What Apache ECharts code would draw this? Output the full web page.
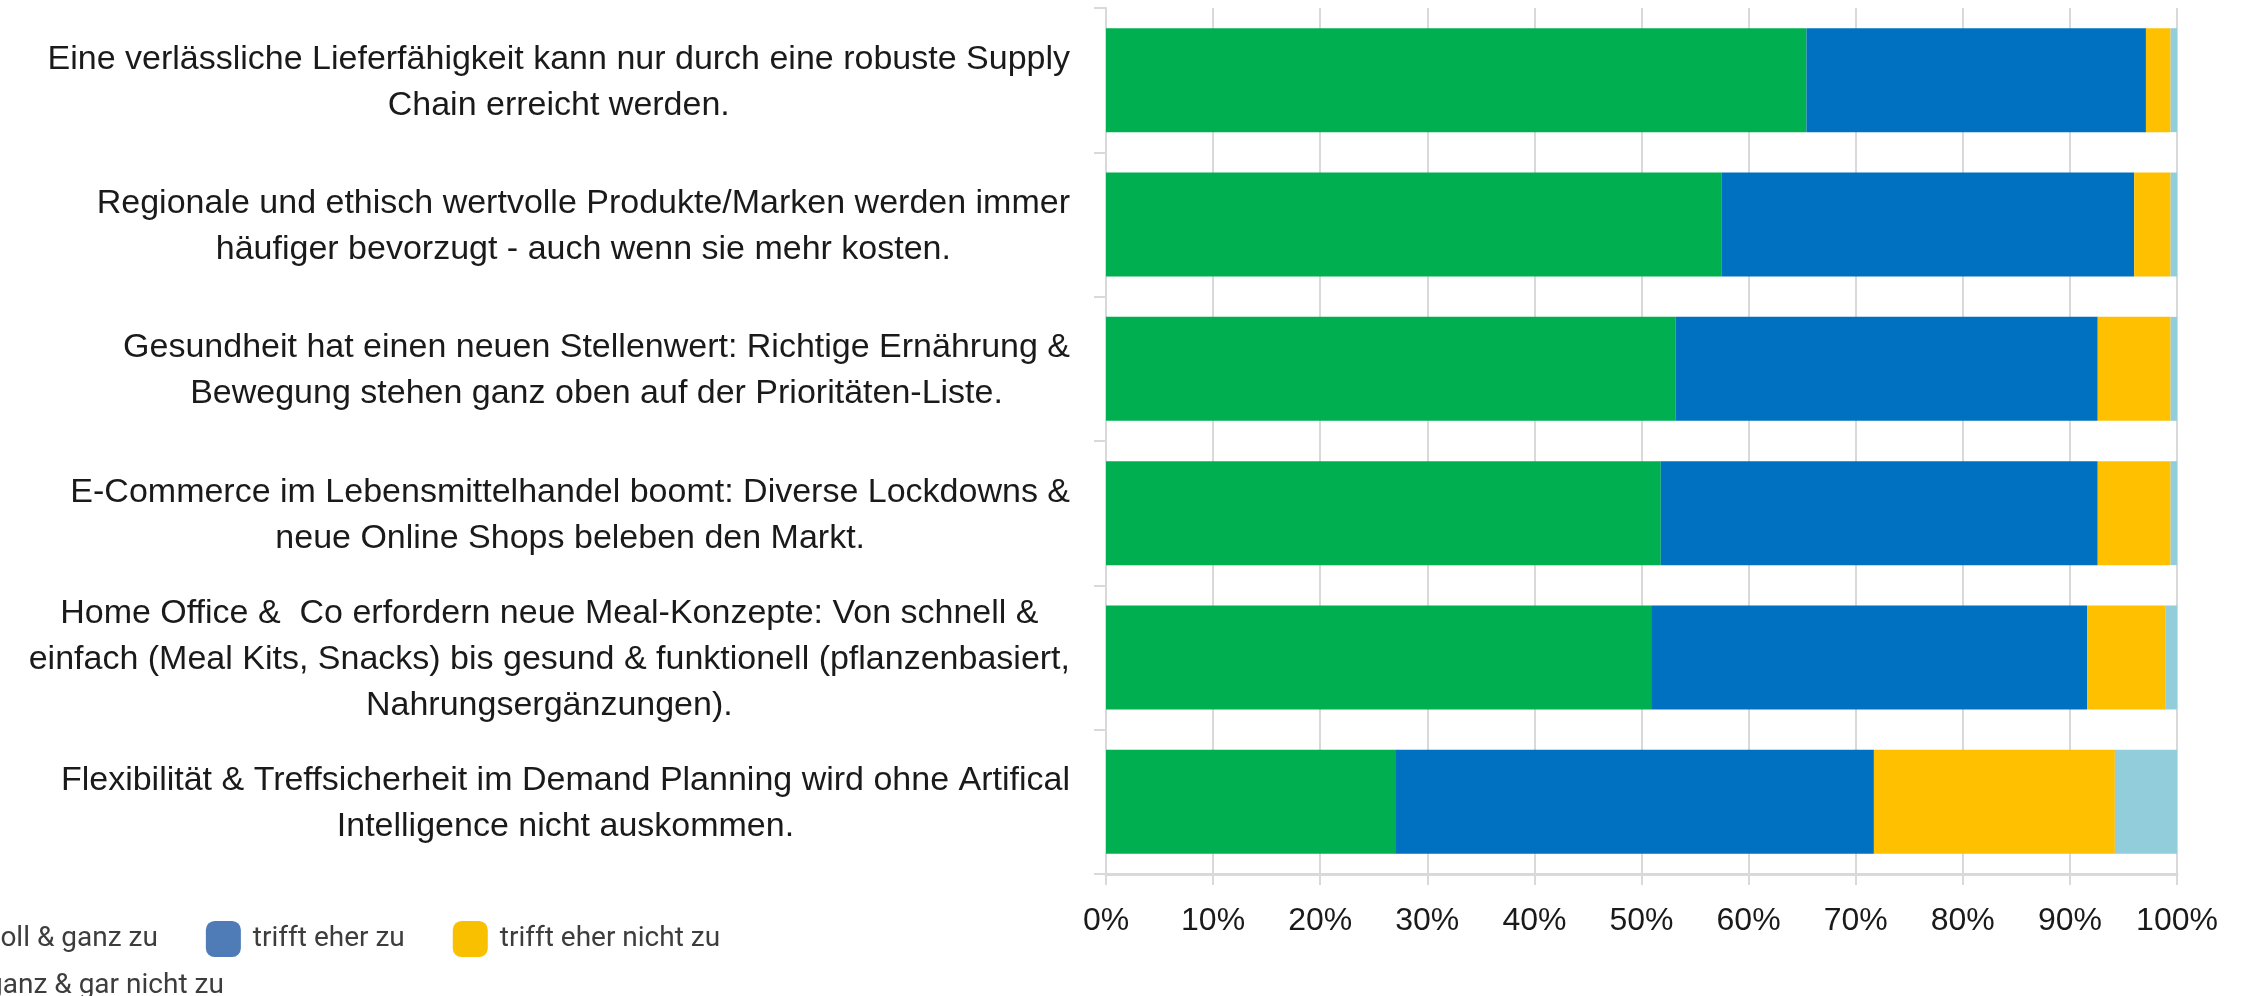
<!DOCTYPE html>
<html>
<head>
<meta charset="utf-8">
<title>Trends Lebensmittelhandel</title>
<script src="https://cdn.jsdelivr.net/npm/echarts@6/dist/echarts.min.js"></script>
<style>
  html, body { margin: 0; padding: 0; background: #fff; }
  #chart { width: 2244px; height: 996px; }
</style>
</head>
<body>
<div id="chart"></div>
<script>
// Aussagen (von oben nach unten)
var categories = [
    "Eine verlässliche Lieferfähigkeit kann nur durch eine robuste Supply\nChain erreicht werden.",
    "Regionale und ethisch wertvolle Produkte/Marken werden immer\nhäufiger bevorzugt - auch wenn sie mehr kosten.",
    "Gesundheit hat einen neuen Stellenwert: Richtige Ernährung &\nBewegung stehen ganz oben auf der Prioritäten-Liste.",
    "E-Commerce im Lebensmittelhandel boomt: Diverse Lockdowns &\nneue Online Shops beleben den Markt.",
    "Home Office &  Co erfordern neue Meal-Konzepte: Von schnell &\neinfach (Meal Kits, Snacks) bis gesund & funktionell (pflanzenbasiert,\nNahrungsergänzungen).",
    "Flexibilität & Treffsicherheit im Demand Planning wird ohne Artifical\nIntelligence nicht auskommen."
];

var seriesNames = ["trifft voll & ganz zu", "trifft eher zu", "trifft eher nicht zu", "trifft ganz & gar nicht zu"];

// Anteile in %
var vollGanz   = [65.4, 57.5, 53.2, 51.8, 50.9, 27.0];
var eherZu     = [31.7, 38.5, 39.4, 40.8, 40.7, 44.7];
var eherNicht  = [2.3, 3.4, 6.8, 6.8, 7.3, 22.5];
var garNicht   = [0.6, 0.6, 0.6, 0.6, 1.1, 5.8];

var xTickValues = [0, 10, 20, 30, 40, 50, 60, 70, 80, 90, 100];
var xTickLabels = ["0%", "10%", "20%", "30%", "40%", "50%", "60%", "70%", "80%", "90%", "100%"];

var barColors = ["#00b050", "#0070c0", "#ffc000", "#92cddc"];
var legendColors = ["#00b050", "#4f7cb6", "#f9c000", "#92cddc"];

var labelFont = "'Liberation Sans', Arial, sans-serif";
var gridColor = "#d9d9d9";

var myChart = echarts.init(document.getElementById("chart"));

function makeSeries(name, values, color) {
    return {
        name: name,
        type: "bar",
        stack: "gesamt",
        barCategoryGap: "28%",
        data: values,
        itemStyle: { color: color },
        emphasis: { disabled: true }
    };
}

var legendText = { fontFamily: "Roboto", fontSize: 28, color: "#3d3d3d", padding: [0, 0, 0, 7] };

var option = {
    animation: false,
    backgroundColor: "#fff",
    grid: {
        left: 1106,
        right: 67,
        top: 8,
        bottom: 122,
        containLabel: false,
        outerBoundsMode: "none"
    },
    legend: [
        {
            left: -126,
            top: 916,
            orient: "horizontal",
            icon: "roundRect",
            itemWidth: 35,
            itemHeight: 36,
            itemGap: 48,
            selectedMode: false,
            textStyle: legendText,
            data: [
                { name: seriesNames[0], itemStyle: { color: legendColors[0] } },
                { name: seriesNames[1], itemStyle: { color: legendColors[1] } },
                { name: seriesNames[2], itemStyle: { color: legendColors[2] } }
            ]
        },
        {
            left: -126,
            top: 963,
            orient: "horizontal",
            icon: "roundRect",
            itemWidth: 35,
            itemHeight: 36,
            selectedMode: false,
            textStyle: legendText,
            data: [
                { name: seriesNames[3], itemStyle: { color: legendColors[3] } }
            ]
        }
    ],
    xAxis: {
        type: "value",
        min: 0,
        max: 100,
        interval: 10,
        axisLine: { show: true, lineStyle: { color: gridColor, width: 3 } },
        axisTick: { show: true, length: 11, lineStyle: { color: gridColor, width: 2 } },
        splitLine: { show: true, lineStyle: { color: gridColor, width: 2 } },
        axisLabel: {
            margin: 31,
            fontFamily: labelFont,
            fontSize: 32,
            color: "#1a1a1a",
            formatter: function (v) {
                var i = xTickValues.indexOf(v);
                return i >= 0 ? xTickLabels[i] : v + "%";
            }
        }
    },
    yAxis: {
        type: "category",
        inverse: true,
        data: categories,
        axisLine: { show: true, lineStyle: { color: gridColor, width: 2 } },
        axisTick: { show: true, length: 12, lineStyle: { color: gridColor, width: 2 } },
        axisLabel: {
            interval: 0,
            margin: 36,
            formatter: function (v) {
                return v.split("\n").map(function (l) { return "{c|" + l + "}"; }).join("\n");
            },
            rich: {
                c: {
                    align: "center",
                    fontFamily: labelFont,
                    fontSize: 34,
                    lineHeight: 46,
                    color: "#1a1a1a",
                    padding: [4, 0, 0, 0]
                }
            }
        }
    },
    series: [
        makeSeries(seriesNames[0], vollGanz, barColors[0]),
        makeSeries(seriesNames[1], eherZu, barColors[1]),
        makeSeries(seriesNames[2], eherNicht, barColors[2]),
        makeSeries(seriesNames[3], garNicht, barColors[3])
    ]
};

myChart.setOption(option);
</script>
</body>
</html>
